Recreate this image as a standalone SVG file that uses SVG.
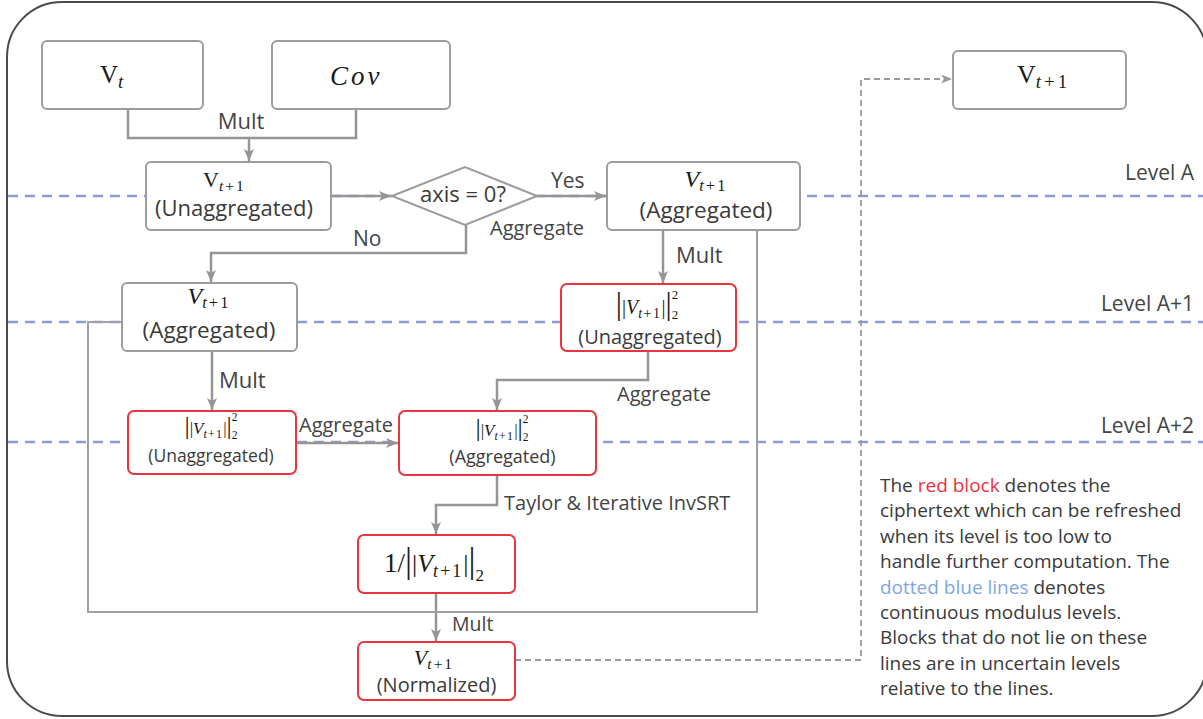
<svg xmlns="http://www.w3.org/2000/svg" width="1203" height="719" viewBox="0 0 1203 719">
<style>
.frame{fill:#fff;stroke:#4a4a4a;stroke-width:2}
.lvl{fill:none;stroke:#8e9bd2;stroke-width:2.5;stroke-dasharray:10 7}
.c{fill:none;stroke:#959595;stroke-width:2.5}
.fb{fill:none;stroke:#a0a0a4;stroke-width:2}
.dash{fill:none;stroke:#9a9a9a;stroke-width:1.8;stroke-dasharray:6 4}
.g{fill:#fff;stroke:#9c9c9c;stroke-width:2}
.r{fill:#fff;stroke:#e8343e;stroke-width:2}
.t{font-family:"Open Sans","Liberation Sans",sans-serif;fill:#3a3a3a}
.lab{font-family:"Open Sans","Liberation Sans",sans-serif;fill:#444}
.m{font-family:"Liberation Serif","DejaVu Serif",serif;fill:#1a1a1a}
.i{font-style:italic}
</style>
<defs>
<marker id="ah" viewBox="0 0 12 10" refX="12" refY="5" markerWidth="12" markerHeight="10" markerUnits="userSpaceOnUse" orient="auto"><path d="M0,0 L12,5 L0,10 L3,5 Z" fill="#959595"/></marker>
<marker id="ahs" viewBox="0 0 12 10" refX="12" refY="5" markerWidth="11" markerHeight="9" markerUnits="userSpaceOnUse" orient="auto"><path d="M0,0 L12,5 L0,10 L3,5 Z" fill="#9a9a9a"/></marker>
</defs>
<rect width="1203" height="719" fill="#fff"/>
<rect class="frame" x="7" y="2" width="1200" height="714" rx="55"/>

<g id="levels">
<line class="lvl" x1="8" y1="196" x2="1203" y2="196"/>
<line class="lvl" x1="8" y1="322" x2="1203" y2="322"/>
<line class="lvl" x1="8" y1="442" x2="1203" y2="442"/>
<text class="lab" x="1194" y="180" font-size="21" text-anchor="end">Level A</text>
<text class="lab" x="1194" y="311" font-size="21" text-anchor="end">Level A+1</text>
<text class="lab" x="1194" y="433" font-size="21" text-anchor="end">Level A+2</text>
</g>

<g id="connectors">
<polyline class="c" points="128,110 128,138 356,138 356,110"/>
<line class="c" x1="249" y1="138" x2="249" y2="161" marker-end="url(#ah)"/>
<line class="c" x1="331" y1="196" x2="391" y2="196" marker-end="url(#ah)"/>
<line class="c" x1="537" y1="196" x2="606" y2="196" marker-end="url(#ah)"/>
<polyline class="c" points="466,225 466,253 211,253 211,282" marker-end="url(#ah)"/>
<line class="c" x1="663" y1="230" x2="663" y2="283" marker-end="url(#ah)"/>
<line class="c" x1="212" y1="351" x2="212" y2="410" marker-end="url(#ah)"/>
<polyline class="c" points="648,351 648,380 497,380 497,410" marker-end="url(#ah)"/>
<line class="c" x1="296" y1="443" x2="398" y2="443" marker-end="url(#ah)"/>
<polyline class="c" points="497,475 497,505 436,505 436,534" marker-end="url(#ah)"/>
<line class="c" x1="436" y1="593" x2="436" y2="641" marker-end="url(#ah)"/>
<polyline class="fb" points="122,322 88,322 88,612 757,612 757,230"/>
<polyline class="dash" points="515,660 861,660 861,79 952,79" marker-end="url(#ahs)"/>
<text class="lab" x="241" y="129" font-size="22" text-anchor="middle">Mult</text>
<text class="lab" x="353" y="246" font-size="21">No</text>
<text class="lab" x="551" y="188" font-size="21">Yes</text>
<text class="lab" x="490" y="235" font-size="20">Aggregate</text>
<text class="lab" x="676" y="263" font-size="22">Mult</text>
<text class="lab" x="219" y="388" font-size="22">Mult</text>
<text class="lab" x="617" y="401" font-size="20">Aggregate</text>
<text class="lab" x="299" y="432" font-size="20">Aggregate</text>
<text class="lab" x="504" y="510" font-size="20">Taylor &amp; Iterative InvSRT</text>
<text class="lab" x="452" y="631" font-size="19.5">Mult</text>
</g>

<g id="n-vt">
<rect class="g" x="42" y="41" width="161" height="68" rx="5"/>
<text class="m" x="100" y="83"><tspan font-size="25">V</tspan><tspan class="i" font-size="19" dy="5">t</tspan></text>
</g>

<g id="n-cov">
<rect class="g" x="272" y="41" width="178" height="68" rx="5"/>
<text class="m i" x="330" y="85" font-size="27" letter-spacing="3">Cov</text>
</g>

<g id="n-vt1-unagg">
<rect class="g" x="146" y="162" width="185" height="68" rx="5"/>
<text class="m" x="203" y="187"><tspan font-size="22">V</tspan><tspan font-size="15.5" dy="4" letter-spacing="2"><tspan class="i">t</tspan>+1</tspan></text>
<text class="t" x="234" y="216" font-size="22" text-anchor="middle">(Unaggregated)</text>
</g>

<g id="n-axis">
<polygon class="g" points="392,196 465,167 537,196 465,225"/>
<text class="t" x="463" y="202" font-size="22" text-anchor="middle">axis = 0?</text>
</g>

<g id="n-vt1-agg-right">
<rect class="g" x="607" y="162" width="193" height="68" rx="5"/>
<text class="m" x="706" y="187" text-anchor="middle"><tspan class="i" font-size="24">V</tspan><tspan font-size="16.5" dy="4" letter-spacing="2"><tspan class="i">t</tspan>+1</tspan></text>
<text class="t" x="706" y="218" font-size="22.5" text-anchor="middle">(Aggregated)</text>
</g>

<g id="n-vt1-agg-left">
<rect class="g" x="122" y="283" width="175" height="68" rx="5"/>
<text class="m" x="209" y="304" text-anchor="middle"><tspan class="i" font-size="24">V</tspan><tspan font-size="16.5" dy="4" letter-spacing="2"><tspan class="i">t</tspan>+1</tspan></text>
<text class="t" x="209" y="338" font-size="22.5" text-anchor="middle">(Aggregated)</text>
</g>

<g id="n-norm2-unagg-right">
<rect class="r" x="561" y="284" width="175" height="67" rx="6"/>
<text class="m" x="647" y="314" text-anchor="middle"><tspan font-size="31">|</tspan><tspan font-size="20">|</tspan><tspan class="i" font-size="20">V</tspan><tspan font-size="14" dy="4" letter-spacing="1.5"><tspan class="i">t</tspan>+1</tspan><tspan font-size="20" dy="-4">|</tspan><tspan font-size="31">|</tspan><tspan font-size="13" dy="-15">2</tspan><tspan font-size="13" dx="-6.5" dy="20">2</tspan></text>
<text class="t" x="650" y="344" font-size="20" text-anchor="middle">(Unaggregated)</text>
</g>

<g id="n-norm2-unagg-left">
<rect class="r" x="128" y="411" width="168" height="63" rx="6"/>
<text class="m" x="211" y="434" text-anchor="middle"><tspan font-size="26">|</tspan><tspan font-size="17">|</tspan><tspan class="i" font-size="17">V</tspan><tspan font-size="12" dy="3.5" letter-spacing="1.2"><tspan class="i">t</tspan>+1</tspan><tspan font-size="17" dy="-3.5">|</tspan><tspan font-size="26">|</tspan><tspan font-size="11.5" dy="-13">2</tspan><tspan font-size="11.5" dx="-5.75" dy="18">2</tspan></text>
<text class="t" x="211" y="462" font-size="17.5" text-anchor="middle">(Unaggregated)</text>
</g>

<g id="n-norm2-agg">
<rect class="r" x="399" y="411" width="197" height="64" rx="6"/>
<text class="m" x="502" y="436" text-anchor="middle"><tspan font-size="26">|</tspan><tspan font-size="17">|</tspan><tspan class="i" font-size="17">V</tspan><tspan font-size="12" dy="3.5" letter-spacing="1.2"><tspan class="i">t</tspan>+1</tspan><tspan font-size="17" dy="-3.5">|</tspan><tspan font-size="26">|</tspan><tspan font-size="11.5" dy="-13">2</tspan><tspan font-size="11.5" dx="-5.75" dy="18">2</tspan></text>
<text class="t" x="502.5" y="463" font-size="18" text-anchor="middle">(Aggregated)</text>
</g>

<g id="n-invnorm">
<rect class="r" x="358" y="535" width="157" height="58" rx="6"/>
<text class="m" x="434" y="572" text-anchor="middle"><tspan font-size="27">1/</tspan><tspan font-size="35">|</tspan><tspan font-size="26">|</tspan><tspan class="i" font-size="26">V</tspan><tspan font-size="18" dy="5" letter-spacing="2"><tspan class="i">t</tspan>+1</tspan><tspan font-size="26" dy="-5">|</tspan><tspan font-size="35">|</tspan><tspan font-size="17" dy="9">2</tspan></text>
</g>

<g id="n-normalized">
<rect class="r" x="358" y="642" width="157" height="58" rx="6"/>
<text class="m" x="434" y="665" text-anchor="middle"><tspan class="i" font-size="22">V</tspan><tspan font-size="15.5" dy="4" letter-spacing="2"><tspan class="i">t</tspan>+1</tspan></text>
<text class="t" x="436.5" y="692" font-size="20" text-anchor="middle">(Normalized)</text>
</g>

<g id="n-out">
<rect class="g" x="953" y="51" width="173" height="58" rx="5"/>
<text class="m" x="1017" y="83"><tspan font-size="26">V</tspan><tspan font-size="19" dy="5" letter-spacing="3"><tspan class="i">t</tspan>+1</tspan></text>
</g>

<g id="legend">
<text class="t" x="880" y="492" font-size="19" fill="#333">
<tspan x="880" dy="0">The <tspan fill="#e8323c">red block</tspan> denotes the</tspan>
<tspan x="880" dy="25.4">ciphertext which can be refreshed</tspan>
<tspan x="880" dy="25.4">when its level is too low to</tspan>
<tspan x="880" dy="25.4">handle further computation. The</tspan>
<tspan x="880" dy="25.4"><tspan fill="#7fa6e0">dotted blue lines</tspan> denotes</tspan>
<tspan x="880" dy="25.4">continuous modulus levels.</tspan>
<tspan x="880" dy="25.4">Blocks that do not lie on these</tspan>
<tspan x="880" dy="25.4">lines are in uncertain levels</tspan>
<tspan x="880" dy="25.4">relative to the lines.</tspan>
</text>
</g>
</svg>
